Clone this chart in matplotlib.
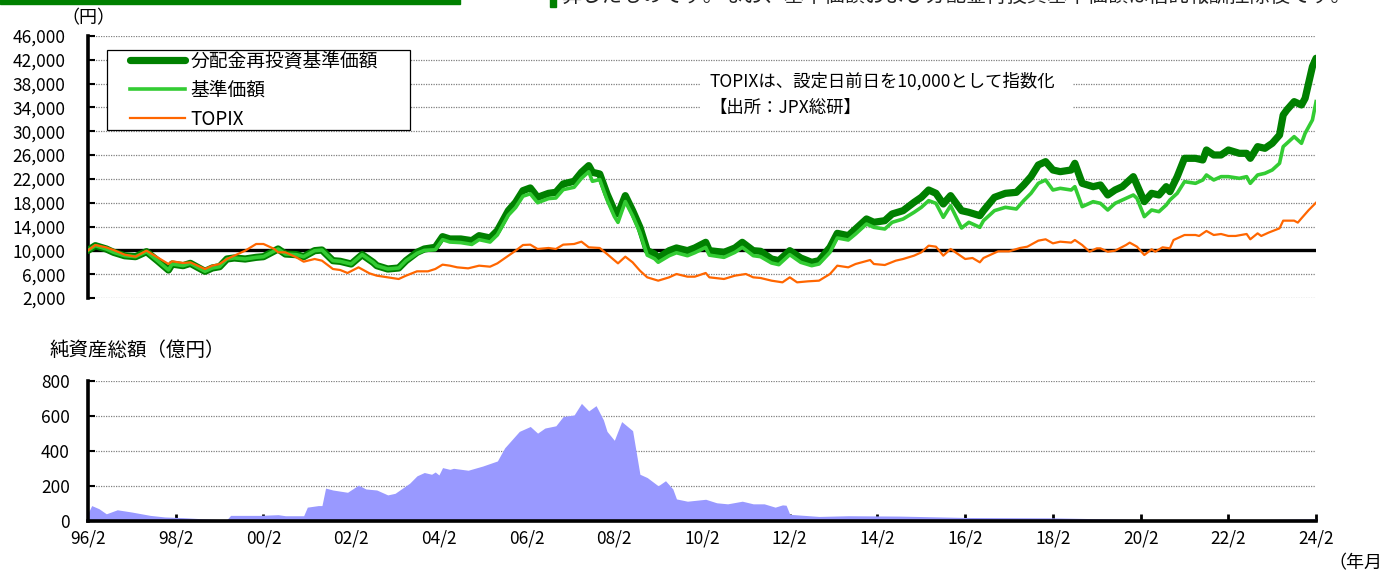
import matplotlib
matplotlib.use('Agg')
import matplotlib.pyplot as plt
import matplotlib.patches as mpatches
import numpy as np

plt.rcParams['font.family'] = ['Noto Sans CJK JP', 'DejaVu Sans']

# months counted from 1996/2
fund_m = [0, 2, 5, 7, 10, 13, 16, 19, 22, 23, 26, 28, 32, 34, 36, 38, 40, 43, 46, 48,
          52, 54, 57, 59, 62, 64, 67, 69, 72, 75, 78, 79, 82, 85, 87, 90, 92, 95, 97, 99,
          102, 105, 107, 110, 112, 115, 117, 119, 121, 123, 126, 128, 130, 133, 135, 137, 138, 140, 142, 144,
          145, 147, 149, 151, 153, 155, 156, 159, 161, 164, 166, 169, 170, 174, 177, 179, 182, 184, 187, 189,
          192, 195, 198, 200, 203, 205, 208, 210, 213, 215, 218, 220, 223, 226, 228, 230, 232, 234, 236, 239,
          241, 244, 245, 248, 251, 254, 256, 258, 260, 262, 264, 266, 269, 270, 272, 275, 277, 279, 281, 283,
          286, 287, 289, 291, 293, 295, 296, 298, 300, 303, 305, 306, 308, 310, 312, 315, 317, 318, 320, 322,
          324, 326, 327, 328, 330, 332, 333, 335, 336]

# 分配金再投資基準価額
reinvest = [10000, 10790, 10230, 9670, 9100, 8940, 9780, 8270, 6700, 7700, 7430, 7820, 6480, 7040, 7260, 8550, 8720, 8550, 8830, 8940,
            10230, 9390, 9280, 8940, 9950, 10060, 8270, 8160, 7710, 9280, 7990, 7430, 6870, 7040, 8270, 9670, 10230, 10510, 12300, 11910,
            11910, 11630, 12470, 12080, 13310, 16670, 18070, 20030, 20480, 18910, 19580, 19750, 21150, 21600, 23110, 24230, 23110, 22830, 19470, 16670,
            16110, 19190, 16670, 13870, 9950, 9390, 8720, 9950, 10400, 9950, 10400, 11350, 9950, 9670, 10400, 11350, 9950, 9840, 8550, 8270,
            9950, 8720, 7990, 8270, 10510, 12860, 12470, 13590, 15270, 14710, 14990, 16110, 16670, 18070, 18910, 20140, 19580, 17790, 19190, 16670,
            16390, 15830, 16670, 18910, 19580, 19750, 20980, 22380, 24340, 24900, 23500, 23220, 23500, 24620, 21260, 20700, 20980, 19300, 20140, 20700,
            22380, 20980, 18180, 19580, 19300, 20700, 19860, 22380, 25460, 25460, 25180, 26860, 26020, 26020, 26860, 26300, 26300, 25460, 27420, 27140,
            27980, 29380, 32740, 33580, 34980, 34420, 35540, 40860, 42260]

# 基準価額
nav = [10000, 10790, 10230, 9670, 9100, 8940, 9780, 8270, 6700, 7700, 7430, 7820, 6480, 7040, 7260, 8550, 8720, 8550, 8830, 8940,
       10230, 9390, 9280, 8940, 9950, 10060, 8270, 8160, 7710, 9280, 7990, 7430, 6870, 7040, 8270, 9500, 10000, 10100, 11800, 11400,
       11300, 11000, 11800, 11400, 12600, 15900, 17200, 19100, 19500, 18000, 18700, 18800, 20200, 20600, 22100, 23200, 21600, 21900, 18500, 15700,
       14700, 18200, 15800, 13000, 9200, 8600, 8000, 9100, 9600, 9100, 9600, 10500, 9200, 8830, 9670, 10510, 9110, 8940, 7880, 7600,
       9280, 7990, 7430, 7710, 9670, 12080, 11740, 12750, 14430, 13870, 13590, 14710, 15270, 16390, 17230, 18350, 17900, 15550, 17510, 13760,
       14710, 13870, 14990, 16670, 17230, 16950, 18350, 19580, 21260, 21820, 20140, 20420, 20140, 20700, 17340, 18180, 17900, 16780, 17900, 18460,
       19300, 18740, 15660, 16780, 16500, 17620, 18460, 19580, 21540, 21260, 21820, 22660, 21820, 22380, 22380, 22100, 22380, 21260, 22660, 22940,
       23500, 24620, 27420, 27980, 29100, 27980, 29660, 31900, 34980]

topix_m = [0, 2, 5, 7, 10, 13, 16, 19, 22, 23, 26, 28, 32, 34, 36, 38, 40, 43, 46, 48,
           51, 52, 54, 57, 59, 62, 64, 67, 69, 71, 74, 77, 79, 82, 85, 87, 90, 93, 95, 97,
           99, 101, 104, 107, 110, 112, 115, 117, 119, 121, 123, 126, 128, 130, 133, 135, 137, 140, 142, 145,
           147, 149, 151, 153, 156, 159, 161, 164, 166, 169, 170, 174, 177, 180, 182, 184, 187, 190, 192, 194,
           197, 200, 203, 205, 208, 210, 214, 215, 218, 221, 223, 226, 228, 230, 232, 234, 236, 240, 242, 244,
           245, 249, 252, 255, 257, 260, 262, 264, 266, 269, 270, 272, 274, 276, 277, 279, 281, 284, 285, 287,
           289, 291, 292, 294, 296, 297, 300, 303, 304, 306, 308, 310, 312, 314, 317, 318, 320, 321, 323, 326,
           327, 330, 331, 332, 334, 336]

topix = [10000, 10900, 10500, 10060, 9280, 8940, 9950, 8830, 7710, 8160, 7880, 7990, 6870, 7430, 7710, 8550, 9110, 9950, 11070, 11070,
         10230, 9670, 9670, 8830, 8100, 8550, 8270, 6870, 6700, 6200, 7150, 6140, 5750, 5470, 5190, 5750, 6480, 6480, 6870, 7600,
         7430, 7150, 6980, 7430, 7260, 7820, 9110, 9950, 10900, 10960, 10230, 10400, 10230, 10960, 11070, 11460, 10510, 10400, 9390, 7820,
         8940, 7990, 6590, 5470, 4910, 5470, 6030, 5580, 5580, 6200, 5470, 5190, 5750, 6030, 5470, 5360, 4910, 4630, 5470, 4630,
         4800, 4910, 6030, 7430, 7150, 7710, 8380, 7710, 7540, 8270, 8550, 9110, 9670, 10790, 10620, 9110, 10230, 8550, 8720, 7990,
         8720, 9840, 9840, 10400, 10620, 11630, 11860, 11180, 11460, 11300, 11740, 10900, 9780, 10340, 10340, 9780, 9950, 10900, 11300, 10620,
         9220, 10180, 9780, 10510, 10340, 11740, 12580, 12580, 12420, 13260, 12580, 12750, 12420, 12420, 12750, 11860, 12860, 12420, 12980, 13700,
         14990, 14990, 14660, 15380, 16780, 18020]

# 純資産総額（億円）
aum_m = [0, 1, 3, 5, 8, 12, 17, 21, 26, 31, 35, 37, 38, 39, 47, 52, 54, 59, 60, 63,
         64, 65, 67, 71, 74, 76, 79, 82, 84, 88, 90, 92, 94, 95, 96, 97, 99, 100, 104, 108,
         112, 114, 118, 121, 123, 125, 128, 130, 133, 135, 137, 139, 141, 142, 144, 146, 149, 151, 153, 156,
         158, 160, 161, 164, 169, 172, 175, 179, 182, 185, 188, 190, 191, 192, 200, 208, 222, 240, 264, 288,
         312, 336]
aum = [45, 88, 70, 41, 64, 51, 32, 23, 19, 13, 9, 8, 8, 32, 32, 36, 30, 30, 79, 88,
       88, 188, 177, 164, 205, 183, 177, 149, 158, 216, 258, 277, 267, 280, 263, 305, 295, 301, 290, 314,
       343, 418, 512, 540, 502, 531, 544, 597, 606, 672, 629, 659, 578, 512, 461, 568, 516, 267, 248, 201,
       230, 183, 126, 113, 124, 104, 98, 113, 98, 98, 79, 92, 90, 38, 26, 30, 28, 20, 18, 8,
       6, 12]

tick_m = list(range(0, 337, 24))
tick_labels = ['96/2', '98/2', '00/2', '02/2', '04/2', '06/2', '08/2', '10/2',
               '12/2', '14/2', '16/2', '18/2', '20/2', '22/2', '24/2']

dark_green = '#008000'
light_green = '#33CC33'
orange = '#FF6600'
grid_kw = dict(color='#808080', linewidth=0.9, linestyle=(0, (1, 1)))

fig = plt.figure(figsize=(13.82, 5.70), dpi=100)

# ---- top panel: prices ----
ax = fig.add_axes([0.0637, 0.4772, 0.8886, 0.4596])
ax.plot(fund_m, reinvest, color=dark_green, linewidth=5.2, zorder=4, label='分配金再投資基準価額',
        solid_joinstyle='round', solid_capstyle='round')
ax.plot(fund_m, nav, color=light_green, linewidth=2.6, zorder=5, label='基準価額')
ax.plot(topix_m, topix, color=orange, linewidth=1.6, zorder=6, label='TOPIX')
ax.axhline(10000, color='black', linewidth=2.4, zorder=3)
yt = list(range(2000, 46001, 4000))
for v in yt:
    if v != 10000:
        ax.axhline(v, zorder=1, **grid_kw)
ax.set_xlim(0, 336)
ax.set_ylim(2000, 46000)
ax.set_yticks(yt)
ax.set_yticklabels(['{:,}'.format(v) for v in yt], fontsize=12.5)
ax.set_xticks([])
for s in ['top', 'right', 'bottom']:
    ax.spines[s].set_visible(False)
ax.spines['left'].set_linewidth(2.6)
ax.tick_params(axis='y', direction='in', length=5, width=1.5, pad=16)

# legend frame drawn as its own box, entries placed inside it
ax.add_patch(mpatches.Rectangle((19 / 1228, 168 / 262), 303 / 1228, 80 / 262,
                                transform=ax.transAxes, facecolor='white',
                                edgecolor='black', linewidth=0.9, zorder=9))
leg = ax.legend(loc='upper left', bbox_to_anchor=(0.030, 0.965), borderaxespad=0,
                fontsize=13.5, handlelength=2.9, handletextpad=0.3,
                labelspacing=0.42, frameon=False, borderpad=0.3)
leg.set_zorder(10)

ax.add_patch(mpatches.Rectangle((0.498, 0.687), 0.304, 0.18, transform=ax.transAxes,
                                facecolor='white', edgecolor='none', zorder=2))
ax.text(0.506, 0.775, 'TOPIXは、設定日前日を10,000として指数化\n【出所：JPX総研】',
        transform=ax.transAxes, fontsize=12.5, va='center', ha='left', linespacing=1.6,
        zorder=10)

fig.text(0.064, 0.968, '（円）', fontsize=13, ha='center', va='center')

# ---- bottom panel: net assets ----
bx = fig.add_axes([0.0637, 0.0860, 0.8886, 0.2456])
bx.fill_between(aum_m, aum, 0, color='#9999FF', linewidth=0, zorder=2)
for v in [200, 400, 600, 800]:
    bx.axhline(v, zorder=1, **grid_kw)
bx.set_xlim(0, 336)
bx.set_ylim(0, 800)
bx.set_yticks([0, 200, 400, 600, 800])
bx.set_yticklabels(['0', '200', '400', '600', '800'], fontsize=12.5)
bx.set_xticks(tick_m)
bx.set_xticklabels(tick_labels, fontsize=12.5)
for s in ['top', 'right']:
    bx.spines[s].set_visible(False)
bx.spines['left'].set_linewidth(2.6)
bx.spines['bottom'].set_linewidth(2.6)
bx.spines['bottom'].set_zorder(5)
bx.tick_params(axis='y', direction='in', length=5, width=1.5, pad=13)
bx.tick_params(axis='x', direction='in', length=5, width=2, pad=6)

fig.text(0.036, 0.386, '純資産総額（億円）', fontsize=14, ha='left', va='center')
fig.text(0.961, 0.012, '（年月）', fontsize=13, ha='left', va='center')

# header bits cut off at the top of the page
fig.patches.append(mpatches.Rectangle((0, 0.993), 0.333, 0.01, transform=fig.transFigure,
                                      color=dark_green, zorder=0))
fig.patches.append(mpatches.Rectangle((0.398, 0.988), 0.0045, 0.013, transform=fig.transFigure,
                                      color=dark_green, zorder=0))
fig.text(0.406, 1.006, '算したものです。なお、基準価額および分配金再投資基準価額は信託報酬控除後です。',
         fontsize=14.6, ha='left', va='center', color='#222222')

plt.savefig('out.png', dpi=100)
